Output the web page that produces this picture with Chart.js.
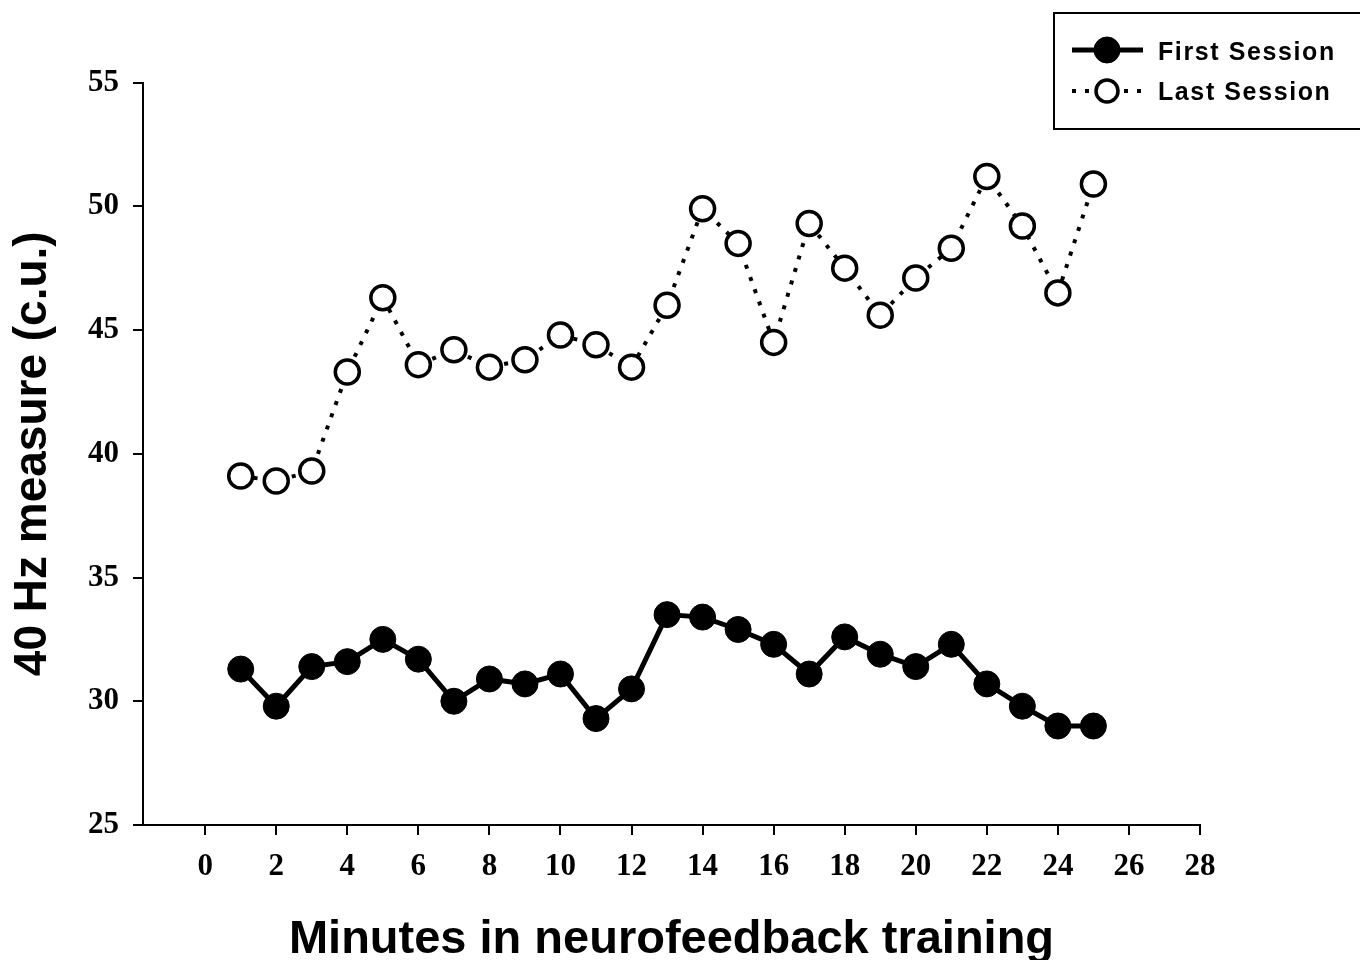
<!DOCTYPE html>
<html><head><meta charset="utf-8">
<script src="https://cdn.jsdelivr.net/npm/chart.js@4.4.1/dist/chart.umd.min.js"></script>
<style>html,body{margin:0;padding:0;background:#fff;}</style>
</head><body>
<canvas id="c" width="1360" height="960"></canvas>
<script>
const minutes = [1,2,3,4,5,6,7,8,9,10,11,12,13,14,15,16,17,18,19,20,21,22,23,24,25];
const firstSession = [31.3,29.8,31.4,31.6,32.5,31.7,30.0,30.9,30.7,31.1,29.3,30.5,33.5,33.4,32.9,32.3,31.1,32.6,31.9,31.4,32.3,30.7,29.8,29.0,29.0];
const lastSession = [39.1,38.9,39.3,43.3,46.3,43.6,44.2,43.5,43.8,44.8,44.4,43.5,46.0,49.9,48.5,44.5,49.3,47.5,45.6,47.1,48.3,51.2,49.2,46.5,50.9];
const xTickValues = [0,2,4,6,8,10,12,14,16,18,20,22,24,26,28];
const yTickValues = [25,30,35,40,45,50,55];
const seriesNames = ['First Session','Last Session'];
const xTitle = 'Minutes in neurofeedback training';
const yTitle = '40 Hz measure (c.u.)';

const toPoints = vals => minutes.map((m,i)=>({x:m,y:vals[i]}));

const legendBox = {
  id:'legendBox',
  afterDraw(chart){
    const ctx = chart.ctx;
    ctx.save();
    ctx.strokeStyle = '#000';
    ctx.lineWidth = 2;
    ctx.strokeRect(1054, 13, 330, 116);
    const rows = [{y:50, tb:60}, {y:91, tb:100}];
    chart.data.datasets.forEach((ds,i)=>{
      const r = rows[i];
      ctx.save();
      ctx.strokeStyle = ds.borderColor;
      ctx.lineWidth = ds.borderWidth;
      ctx.setLineDash(ds.borderDash || []);
      ctx.beginPath(); ctx.moveTo(1072, r.y); ctx.lineTo(1143, r.y); ctx.stroke();
      ctx.setLineDash([]);
      ctx.beginPath(); ctx.arc(1107, r.y, ds.pointRadius - (i?1:0), 0, Math.PI*2);
      ctx.fillStyle = ds.pointBackgroundColor; ctx.fill();
      ctx.lineWidth = ds.pointBorderWidth; ctx.strokeStyle = ds.pointBorderColor; ctx.stroke();
      ctx.restore();
      ctx.fillStyle = '#000';
      ctx.font = 'bold 25px "Liberation Sans", Arial, sans-serif';
      ctx.letterSpacing = '1.6px';
      ctx.textAlign = 'left'; ctx.textBaseline = 'alphabetic';
      ctx.fillText(ds.label, 1158, r.tb);
    });
    ctx.restore();
  }
};

new Chart(document.getElementById('c'), {
  type:'line',
  data:{
    datasets:[
      {label:seriesNames[0], data:toPoints(firstSession), borderColor:'#000', borderWidth:5,
       pointRadius:13, pointBackgroundColor:'#000', pointBorderColor:'#000', pointBorderWidth:1, tension:0},
      {label:seriesNames[1], data:toPoints(lastSession), borderColor:'#000', borderWidth:4, borderDash:[4,9],
       pointRadius:12, pointBackgroundColor:'#fff', pointBorderColor:'#000', pointBorderWidth:3.5, tension:0}
    ]
  },
  options:{
    responsive:false, animation:false, devicePixelRatio:1,
    layout:{padding:{left:0, top:82.5, right:160, bottom:0}},
    plugins:{legend:{display:false}, tooltip:{enabled:false}},
    scales:{
      x:{type:'linear', min:-1.75, max:28,
        afterBuildTicks(s){ s.ticks = xTickValues.map(v=>({value:v})); },
        afterFit(s){ s.height = 135; },
        border:{display:true, color:'#000', width:2},
        grid:{drawOnChartArea:false, drawTicks:true, tickLength:10, color:'#000', lineWidth:2},
        ticks:{color:'#000', padding:13, maxRotation:0, font:{family:'"Liberation Serif", "Times New Roman", serif', weight:'bold', size:31}},
        title:{display:true, text:xTitle, color:'#000', padding:{top:0,bottom:0},
          font:{family:'"Liberation Sans", Arial, sans-serif', weight:'bold', size:47, lineHeight:0.83}}
      },
      y:{type:'linear', min:25, max:55,
        afterBuildTicks(s){ s.ticks = yTickValues.map(v=>({value:v})); },
        afterFit(s){ s.width = 143; },
        border:{display:true, color:'#000', width:2},
        grid:{drawOnChartArea:false, drawTicks:true, tickLength:10, color:'#000', lineWidth:2},
        ticks:{color:'#000', padding:14, font:{family:'"Liberation Serif", "Times New Roman", serif', weight:'bold', size:31}},
        title:{display:true, text:yTitle, color:'#000', padding:{top:10,bottom:0},
          font:{family:'"Liberation Sans", Arial, sans-serif', weight:'bold', size:46, lineHeight:1}}
      }
    }
  },
  plugins:[legendBox]
});
</script>
</body></html>
